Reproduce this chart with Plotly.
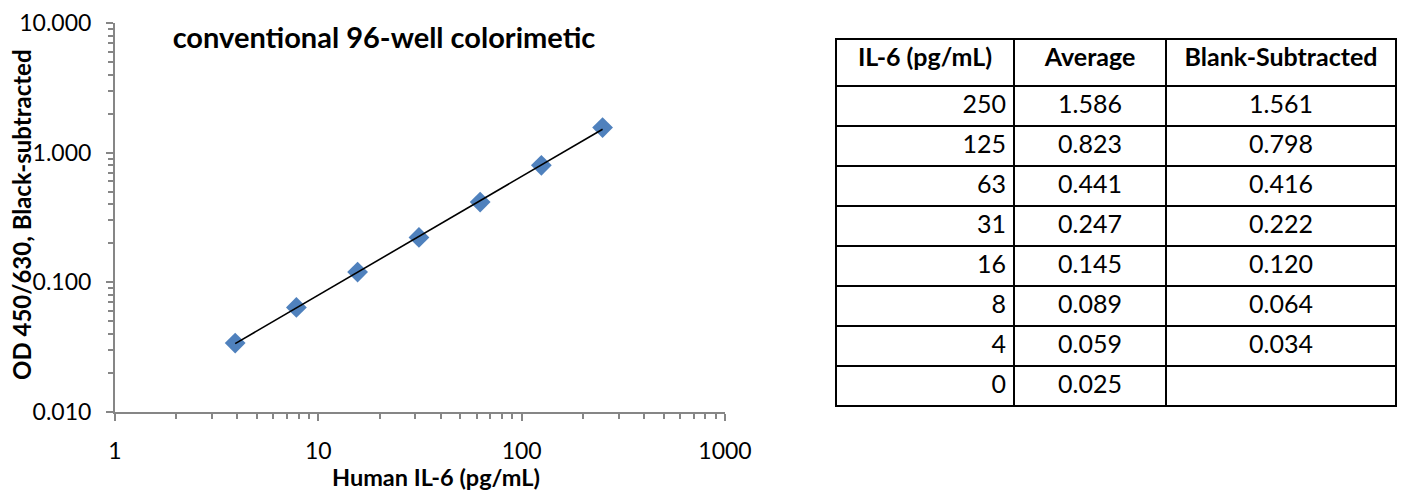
import numpy as np
import plotly.graph_objects as go

# ---- data ----
conc_plot = [3.9, 7.8, 15.6, 31.25, 62.5, 125, 250]          # x positions of points (pg/mL)
od_blank_sub = [0.034, 0.064, 0.120, 0.222, 0.416, 0.798, 1.561]

table_conc = ["250", "125", "63", "31", "16", "8", "4", "0"]
table_avg = [1.586, 0.823, 0.441, 0.247, 0.145, 0.089, 0.059, 0.025]
table_blank = [1.561, 0.798, 0.416, 0.222, 0.120, 0.064, 0.034, None]
table_header = ["IL-6 (pg/mL)", "Average", "Blank-Subtracted"]

y_ticks = [0.01, 0.1, 1, 10]
x_ticks = [1, 10, 100, 1000]

W, H = 1401, 491
FONT = "Lato"
AXIS_COL = "#868686"

# power trendline fit (log-log linear regression)
lx = np.log10(conc_plot)
ly = np.log10(od_blank_sub)
b, a = np.polyfit(lx, ly, 1)
fit_x = [min(conc_plot), max(conc_plot)]
fit_y = [10 ** (a + b * np.log10(v)) for v in fit_x]

fig = go.Figure()
fig.add_trace(go.Scatter(
    x=conc_plot, y=od_blank_sub, mode="markers",
    marker=dict(symbol="diamond", size=16, color="#4F81BD", line=dict(width=0)),
    showlegend=False, hoverinfo="x+y"))
fig.add_trace(go.Scatter(
    x=fit_x, y=fit_y, mode="lines",
    line=dict(color="black", width=1.6),
    showlegend=False, hoverinfo="skip"))

# table
fig.add_trace(go.Table(
    domain=dict(x=[836 / W, 1396 / W], y=[1 - 412 / H, 1 - 39 / H]),
    columnwidth=[178, 152, 230],
    header=dict(values=table_header,
                align=["center", "center", "center"],
                height=47,
                font=dict(family=FONT, size=25, color="black", weight="bold"),
                line=dict(color="black", width=2.5),
                fill=dict(color="white")),
    cells=dict(values=[table_conc,
                       [f"{v:.3f}" for v in table_avg],
                       ["" if v is None else f"{v:.3f}" for v in table_blank]],
               align=["right", "center", "center"],
               height=40,
               font=dict(family=FONT, size=25, color="black"),
               line=dict(color="black", width=2.5),
               fill=dict(color="white"))))

fig.update_layout(
    width=W, height=H,
    margin=dict(l=0, r=0, t=0, b=0, autoexpand=False),
    paper_bgcolor="white", plot_bgcolor="white",
    font=dict(family=FONT, color="black"),
    title=dict(text="<b>conventional 96-well colorimetic</b>",
               x=384 / W, xanchor="center", xref="paper",
               y=1 - 38 / H, yanchor="middle", yref="paper",
               font=dict(family=FONT, size=29, color="black")),
    xaxis=dict(type="log", range=[0, 3], domain=[115 / W, 725 / W], automargin=False,
               tickvals=x_ticks, ticktext=[str(v) for v in x_ticks],
               showline=True, linecolor=AXIS_COL, linewidth=2,
               ticks="outside", ticklen=7, tickwidth=2, tickcolor=AXIS_COL,
               minor=dict(ticks="outside", ticklen=5, tickwidth=2, tickcolor=AXIS_COL, dtick="D1"),
               showgrid=False, zeroline=False,
               tickfont=dict(family=FONT, size=23, color="black"),
               ticklabelstandoff=10),
    yaxis=dict(type="log", range=[-2, 1], domain=[1 - 412 / H, 1 - 23 / H], automargin=False,
               tickvals=y_ticks, ticktext=[f"{v:.3f}" for v in y_ticks],
               showline=True, linecolor=AXIS_COL, linewidth=2,
               ticks="outside", ticklen=7, tickwidth=2, tickcolor=AXIS_COL,
               minor=dict(ticks="outside", ticklen=5, tickwidth=2, tickcolor=AXIS_COL, dtick="D1"),
               showgrid=False, zeroline=False,
               tickfont=dict(family=FONT, size=23, color="black"),
               ticklabelstandoff=10),
    annotations=[
        dict(text="<b>Human IL-6 (pg/mL)</b>", xref="paper", yref="paper",
             x=436 / W, y=1 - 477 / H, xanchor="center", yanchor="middle",
             showarrow=False, font=dict(family=FONT, size=23.5, color="black")),
        dict(text="<b>OD 450/630, Black-subtracted</b>", xref="paper", yref="paper",
             x=22 / W, y=1 - 215 / H, xanchor="center", yanchor="middle", textangle=-90,
             showarrow=False, font=dict(family=FONT, size=24, color="black")),
    ],
)

fig.write_html("out.html")
